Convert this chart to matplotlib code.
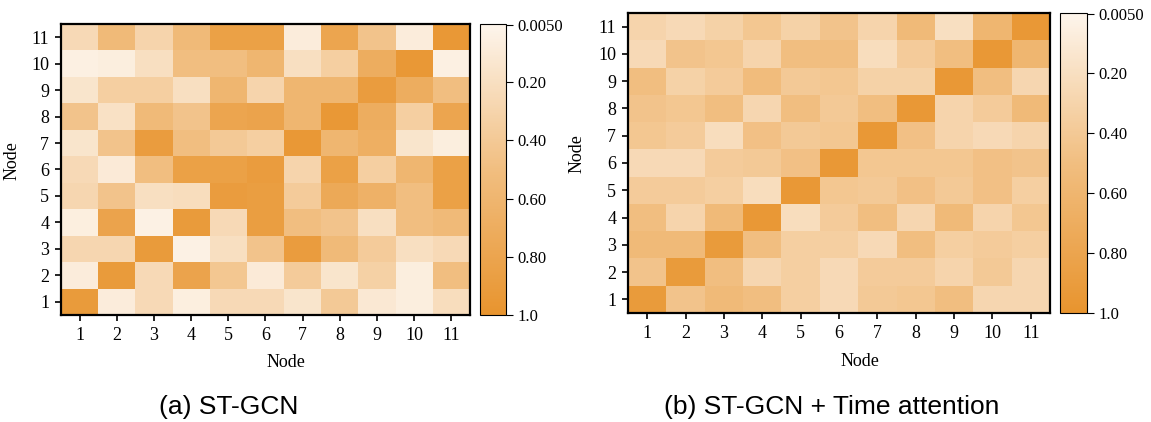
import matplotlib
matplotlib.use("Agg")
import matplotlib.pyplot as plt
import numpy as np
from matplotlib.colors import LinearSegmentedColormap

# ---------------------------------------------------------------------------
# Data (rows listed from node 11 at the top down to node 1)
# ---------------------------------------------------------------------------
NODES = list(range(1, 12))
CBAR_TICKS = [0.005, 0.2, 0.4, 0.6, 0.8, 1.0]
CBAR_LABELS = ["0.0050", "0.20", "0.40", "0.60", "0.80", "1.0"]

STGCN = [
    [0.25, 0.55, 0.30, 0.55, 0.85, 0.85, 0.08, 0.80, 0.45, 0.08, 0.95],  # 11
    [0.05, 0.07, 0.20, 0.50, 0.50, 0.60, 0.20, 0.35, 0.70, 0.95, 0.05],  # 10
    [0.15, 0.35, 0.35, 0.20, 0.60, 0.30, 0.60, 0.60, 0.90, 0.70, 0.50],  # 9
    [0.45, 0.18, 0.55, 0.45, 0.80, 0.82, 0.60, 0.95, 0.70, 0.35, 0.80],  # 8
    [0.15, 0.45, 0.90, 0.50, 0.40, 0.35, 0.95, 0.60, 0.68, 0.15, 0.07],  # 7
    [0.25, 0.10, 0.50, 0.85, 0.85, 0.90, 0.30, 0.85, 0.35, 0.60, 0.85],  # 6
    [0.28, 0.45, 0.20, 0.22, 0.90, 0.88, 0.38, 0.75, 0.65, 0.50, 0.85],  # 5
    [0.06, 0.82, 0.04, 0.92, 0.25, 0.88, 0.50, 0.45, 0.20, 0.50, 0.55],  # 4
    [0.28, 0.28, 0.92, 0.04, 0.20, 0.45, 0.90, 0.55, 0.38, 0.20, 0.25],  # 3
    [0.08, 0.92, 0.25, 0.82, 0.42, 0.10, 0.38, 0.15, 0.33, 0.07, 0.50],  # 2
    [0.92, 0.08, 0.25, 0.06, 0.25, 0.25, 0.15, 0.40, 0.12, 0.07, 0.22],  # 1
]

STGCN_TIME = [
    [0.30, 0.25, 0.32, 0.42, 0.32, 0.45, 0.30, 0.55, 0.20, 0.60, 0.95],  # 11
    [0.25, 0.45, 0.42, 0.30, 0.50, 0.50, 0.22, 0.38, 0.50, 0.95, 0.60],  # 10
    [0.50, 0.32, 0.38, 0.52, 0.40, 0.42, 0.32, 0.32, 0.95, 0.50, 0.28],  # 9
    [0.45, 0.42, 0.50, 0.28, 0.50, 0.40, 0.50, 0.95, 0.30, 0.38, 0.55],  # 8
    [0.42, 0.38, 0.22, 0.48, 0.40, 0.42, 0.95, 0.48, 0.30, 0.25, 0.30],  # 7
    [0.25, 0.25, 0.38, 0.40, 0.48, 0.95, 0.42, 0.42, 0.42, 0.48, 0.45],  # 6
    [0.38, 0.38, 0.35, 0.22, 0.95, 0.42, 0.40, 0.48, 0.40, 0.48, 0.35],  # 5
    [0.50, 0.30, 0.55, 0.95, 0.22, 0.38, 0.50, 0.28, 0.55, 0.30, 0.42],  # 4
    [0.55, 0.55, 0.92, 0.50, 0.35, 0.35, 0.25, 0.50, 0.35, 0.38, 0.35],  # 3
    [0.45, 0.92, 0.50, 0.28, 0.35, 0.25, 0.38, 0.38, 0.30, 0.40, 0.28],  # 2
    [0.92, 0.45, 0.55, 0.50, 0.35, 0.25, 0.40, 0.42, 0.50, 0.28, 0.28],  # 1
]

CMAP = LinearSegmentedColormap.from_list(
    "cream_orange", [(0.0, "#FDF5EC"), (0.5, "#F1BE80"), (1.0, "#E8942E")], N=256
)

SERIF = ["Liberation Serif", "DejaVu Serif"]
SANS = ["Liberation Sans", "DejaVu Sans"]


def draw_panel(fig, ax_rect, cb_rect, data):
    ax = fig.add_axes(ax_rect)
    cax = fig.add_axes(cb_rect)
    mat = np.array(data)[::-1]  # row 0 -> node 1
    im = ax.pcolormesh(np.arange(0.5, 12.5), np.arange(0.5, 12.5), mat,
                       cmap=CMAP, vmin=0.0, vmax=1.0)
    ax.set_xlim(0.5, 11.5)
    ax.set_ylim(0.5, 11.5)
    ax.set_xticks(NODES)
    ax.set_yticks(NODES)
    ax.set_xticklabels([str(n) for n in NODES], family=SERIF, fontsize=13)
    ax.set_yticklabels([str(n) for n in NODES], family=SERIF, fontsize=13)
    ax.tick_params(direction="out", length=4.5, width=1.2, pad=4)
    for sp in ax.spines.values():
        sp.set_linewidth(1.6)
    ax.set_xlabel("Node", family=SERIF, fontsize=13, labelpad=2)
    ax.set_ylabel("Node", family=SERIF, fontsize=13, labelpad=4)
    ax.xaxis.set_label_coords(0.55, -0.135)
    ax.yaxis.set_label_coords(-0.1, 0.53)

    cb = fig.colorbar(im, cax=cax, ticks=CBAR_TICKS)
    cb.ax.invert_yaxis()
    cb.ax.set_yticklabels(CBAR_LABELS, family=SERIF, fontsize=12)
    cb.ax.tick_params(direction="out", length=5, width=0.8, pad=3)
    cb.outline.set_linewidth(0.8)
    return ax


fig = plt.figure(figsize=(11.51, 4.22), dpi=100)

draw_panel(fig, [0.053, 0.2536, 0.3553, 0.6896], [0.417, 0.2536, 0.0226, 0.6896], STGCN)
draw_panel(fig, [0.5456, 0.2583, 0.3666, 0.7109], [0.9209, 0.2583, 0.0235, 0.7109], STGCN_TIME)

fig.text(0.199, 0.02, "(a) ST-GCN", ha="center", va="baseline",
         family=SANS, fontsize=19)
fig.text(0.723, 0.02, "(b) ST-GCN + Time attention", ha="center", va="baseline",
         family=SANS, fontsize=19)

fig.savefig("out.png", dpi=100)
